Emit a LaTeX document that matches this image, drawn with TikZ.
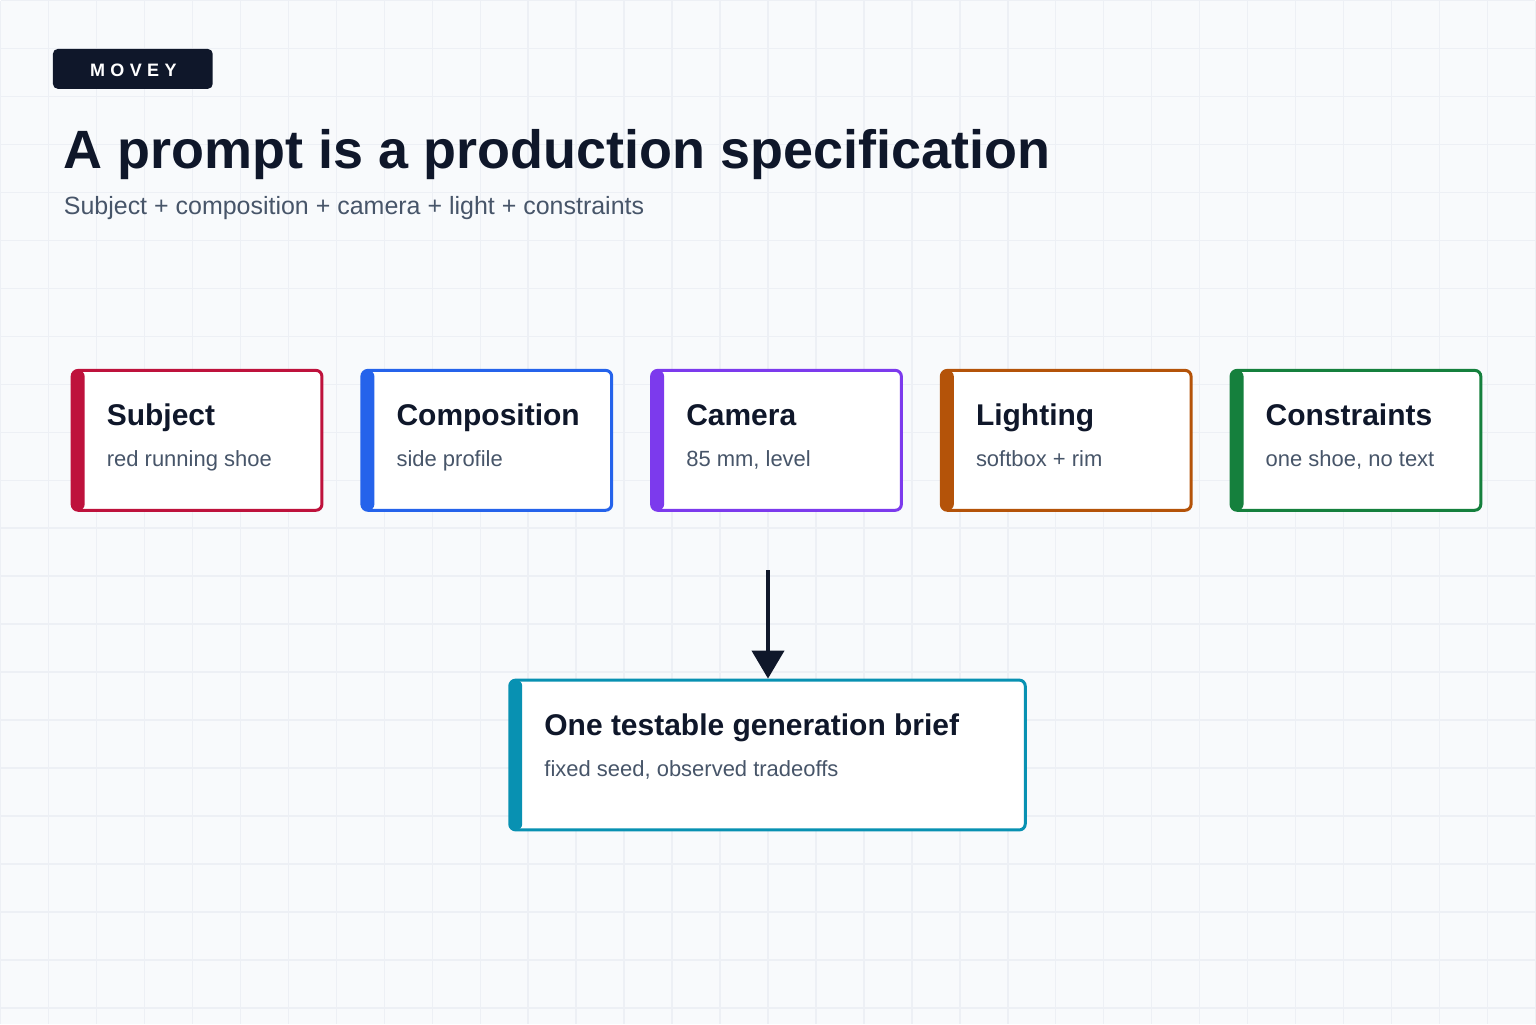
\documentclass[tikz,border=0pt]{standalone}
\usepackage{fontspec}
\setmainfont{Liberation Sans}
\newfontfamily\badgefont[LetterSpace=30]{Liberation Sans}
\usetikzlibrary{arrows.meta,positioning}

\definecolor{ink}{HTML}{0F172A}
\definecolor{slate}{HTML}{475569}
\definecolor{paper}{HTML}{F8FAFC}
\definecolor{gridline}{HTML}{EDF0F5}
\definecolor{subjcol}{HTML}{BE123C}
\definecolor{compcol}{HTML}{2563EB}
\definecolor{camcol}{HTML}{7C3AED}
\definecolor{lightcol}{HTML}{B45309}
\definecolor{conscol}{HTML}{15803D}
\definecolor{briefcol}{HTML}{0891B2}

\tikzset{
  card/.style={draw=#1,line width=3pt,rounded corners=6pt,fill=white,
    inner sep=0pt,anchor=north west,minimum width=250pt,minimum height=140pt,
    path picture={\fill[#1] (path picture bounding box.north west)
      rectangle ([xshift=12.5pt]path picture bounding box.south west);}},
  cardtitle/.style={anchor=base west,inner sep=0pt,text=ink,
    font=\fontsize{30}{34}\selectfont\bfseries},
  cardsub/.style={anchor=base west,inner sep=0pt,text=slate,
    font=\fontsize{22}{26}\selectfont}
}

\begin{document}
\begin{tikzpicture}[x=1pt,y=-1pt]

% background and grid
\fill[paper] (0,0) rectangle (1536,1024);
\foreach \gx in {0,48,...,1536} \draw[gridline,line width=1.5pt] (\gx,0) -- (\gx,1024);
\foreach \gy in {0,48,...,1024} \draw[gridline,line width=1.5pt] (0,\gy) -- (1536,\gy);

% header
\node[fill=ink,rounded corners=5pt,minimum width=160pt,minimum height=40pt,
  inner sep=0pt,anchor=north west] (badge) at (52,48) {};
\node[text=white,font=\fontsize{18}{20}\selectfont\badgefont\bfseries,inner sep=0pt]
  (badgetxt) at ([xshift=0.5pt,yshift=-1pt]badge.center) {MOVEY};
\node[anchor=base west,inner sep=0pt,text=ink,font=\fontsize{54}{60}\selectfont\bfseries]
  (title) at (63,168) {A prompt is a production specification};
\node[anchor=base west,inner sep=0pt,text=slate,font=\fontsize{25}{30}\selectfont]
  (subtitle) at (63,214) {Subject + composition + camera + light + constraints};

% spec cards
\node[card=subjcol] (subj) at (70,368.5) {};
\node[cardtitle] (subjT) at ([xshift=36pt,yshift=-57pt]subj.north west) {Subject};
\node[cardsub] (subjS) at ([xshift=36pt,yshift=-98pt]subj.north west) {red running shoe};

\node[card=compcol] (comp) at (360,368.5) {};
\node[cardtitle] (compT) at ([xshift=36pt,yshift=-57pt]comp.north west) {Composition};
\node[cardsub] (compS) at ([xshift=36pt,yshift=-98pt]comp.north west) {side profile};

\node[card=camcol] (cam) at (650,368.5) {};
\node[cardtitle] (camT) at ([xshift=36pt,yshift=-57pt]cam.north west) {Camera};
\node[cardsub] (camS) at ([xshift=36pt,yshift=-98pt]cam.north west) {85 mm, level};

\node[card=lightcol] (light) at (940,368.5) {};
\node[cardtitle] (lightT) at ([xshift=36pt,yshift=-57pt]light.north west) {Lighting};
\node[cardsub] (lightS) at ([xshift=36pt,yshift=-98pt]light.north west) {softbox + rim};

\node[card=conscol] (cons) at (1230,368.5) {};
\node[cardtitle] (consT) at ([xshift=36pt,yshift=-57pt]cons.north west) {Constraints};
\node[cardsub] (consS) at ([xshift=36pt,yshift=-98pt]cons.north west) {one shoe, no text};

% result
\node[card=briefcol,minimum width=516pt,minimum height=150pt] (brief) at (508,678.5) {};
\node[cardtitle] (briefT) at ([xshift=36pt,yshift=-57pt]brief.north west) {One testable generation brief};
\node[cardsub] (briefS) at ([xshift=36pt,yshift=-98pt]brief.north west) {fixed seed, observed tradeoffs};

\coordinate (feed) at (768,570);
\draw[ink,line width=4pt,-{Triangle[length=28pt,width=32pt]}] (feed) -- (feed |- brief.north);
\end{tikzpicture}
\end{document}
